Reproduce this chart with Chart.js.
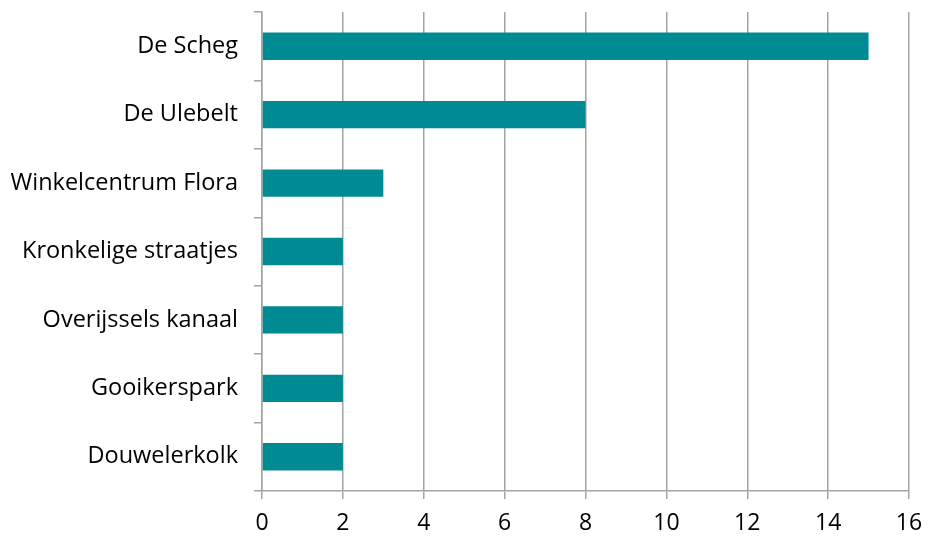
<!DOCTYPE html>
<html>
  <head>
    <title>Horizontal Bar Chart</title>
    <script src="https://cdn.jsdelivr.net/npm/chart.js@4/dist/chart.umd.min.js"></script>
    <style>
      body { margin: 0; background: #fff; }
    </style>
  </head>

  <body>
    <canvas id="canvas" width="928" height="537"></canvas>
    <script>
      const locations = [
        'De Scheg',
        'De Ulebelt',
        'Winkelcentrum Flora',
        'Kronkelige straatjes',
        'Overijssels kanaal',
        'Gooikerspark',
        'Douwelerkolk',
      ];
      const counts = [15, 8, 3, 2, 2, 2, 2];
      const xTicks = [0, 2, 4, 6, 8, 10, 12, 14, 16];

      const barColor = '#008b94';
      const gridColor = '#a3a3a3';
      const fontFamily = '"Open Sans", sans-serif';

      const ctx = document.getElementById('canvas').getContext('2d');
      new Chart(ctx, {
        type: 'bar',
        data: {
          labels: locations,
          datasets: [
            {
              data: counts,
              backgroundColor: barColor,
              borderWidth: 0,
              categoryPercentage: 1,
              barPercentage: 0.4,
            },
          ],
        },
        options: {
          indexAxis: 'y',
          responsive: false,
          animation: false,
          layout: {
            padding: { top: 12, right: 19, bottom: 0, left: 0 },
          },
          plugins: {
            legend: { display: false },
            tooltip: { enabled: false },
          },
          scales: {
            x: {
              min: xTicks[0],
              max: xTicks[xTicks.length - 1],
              afterBuildTicks: (scale) => {
                scale.ticks = xTicks.map((v) => ({ value: v }));
              },
              afterFit: (scale) => {
                scale.height = 46;
                scale.paddingRight = 0;
              },
              grid: {
                color: gridColor,
                lineWidth: 1.5,
                tickLength: 8,
              },
              border: { color: gridColor, width: 1.5 },
              ticks: {
                color: '#000',
                padding: 11,
                font: { family: fontFamily, size: 23 },
              },
            },
            y: {
              afterFit: (scale) => {
                scale.width = 262;
                scale.paddingTop = 0;
                scale.paddingBottom = 0;
              },
              grid: {
                offset: true,
                drawOnChartArea: false,
                color: gridColor,
                lineWidth: 1.5,
                tickLength: 8,
              },
              border: { color: gridColor, width: 1.5 },
              ticks: {
                color: '#000',
                padding: 16,
                font: { family: fontFamily, size: 23.5 },
              },
            },
          },
        },
      });
    </script>
  </body>
</html>
